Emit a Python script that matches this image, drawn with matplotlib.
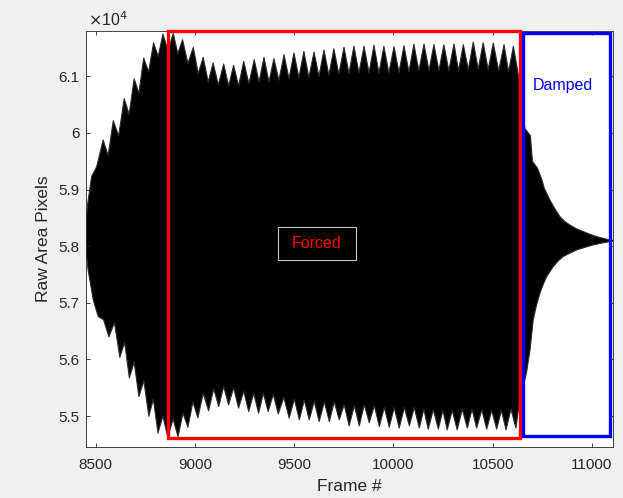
import numpy as np
import matplotlib
matplotlib.use("Agg")
import matplotlib.pyplot as plt
from matplotlib.patches import Rectangle
from matplotlib.ticker import FuncFormatter

# ---------------- data ----------------
# upper envelope: beat peaks
upper_peak_frames = [8538, 8589, 8644, 8694, 8742, 8792, 8839, 8891, 8938, 8992, 9042, 9092, 9145, 9195,
                     9246, 9299, 9348, 9398, 9449, 9499, 9549, 9600, 9650, 9700, 9751, 9801, 9852, 9902,
                     9952, 10003, 10053, 10103, 10154, 10204, 10254, 10305, 10352, 10402, 10452, 10503,
                     10557, 10604]
upper_peak_vals = [59876, 60216, 60605, 60958, 61323, 61593, 61747, 61759, 61646, 61512, 61335, 61235,
                   61217, 61194, 61265, 61293, 61335, 61311, 61381, 61411, 61441, 61429, 61464, 61487,
                   61512, 61535, 61530, 61547, 61530, 61523, 61540, 61565, 61570, 61561, 61558, 61570,
                   61558, 61605, 61593, 61588, 61558, 61530]
# upper envelope: between beats
upper_dip_frames = [8563, 8616, 8669, 8718, 8767, 8815, 8865, 8914, 8965, 9017, 9067, 9118, 9170, 9220,
                    9272, 9323, 9373, 9423, 9474, 9524, 9574, 9625, 9675, 9725, 9776, 9826, 9877, 9927,
                    9977, 10028, 10078, 10128, 10179, 10229, 10279, 10328, 10377, 10427, 10477, 10530,
                    10580]
upper_dip_vals = [59600, 59950, 60330, 60700, 61080, 61350, 61450, 61400, 61230, 61050, 60900, 60850,
                  60830, 60830, 60870, 60900, 60900, 60930, 60960, 60980, 60980, 61000, 61020, 61040,
                  61050, 61060, 61060, 61060, 61060, 61070, 61080, 61100, 61100, 61100, 61100, 61100,
                  61120, 61130, 61120, 61100, 61080]
# rise at the start and free decay at the end (upper edge)
upper_start_frames = [8453, 8458, 8480, 8505]
upper_start_vals = [58460, 58700, 59230, 59400]
upper_end_frames = [10628, 10645, 10662, 10690, 10700, 10725, 10745, 10760, 10788, 10815, 10839, 10865,
                    10889, 10920, 10956, 10990, 11024, 11060, 11091, 11106]
upper_end_vals = [61050, 60600, 60080, 59950, 59500, 59380, 59200, 59020, 58815, 58650, 58520, 58430,
                  58373, 58310, 58257, 58210, 58168, 58135, 58110, 58100]

# lower envelope: beat troughs
lower_trough_frames = [8567, 8622, 8670, 8718, 8768, 8814, 8864, 8915, 8965, 9015, 9069, 9120, 9170, 9220,
                       9271, 9321, 9369, 9420, 9475, 9526, 9576, 9626, 9677, 9727, 9777, 9828, 9878, 9929,
                       9979, 10029, 10080, 10130, 10175, 10226, 10271, 10321, 10372, 10419, 10470, 10520,
                       10567, 10617]
lower_trough_vals = [56398, 56036, 55674, 55344, 54995, 54698, 54615, 54633, 54801, 54968, 55092, 55168,
                     55198, 55140, 55079, 55051, 55079, 55039, 54963, 54933, 54933, 54903, 54903, 54933,
                     54827, 54827, 54885, 54815, 54804, 54787, 54827, 54787, 54769, 54769, 54757, 54757,
                     54787, 54787, 54769, 54769, 54757, 54787]
lower_dip_frames = [8595, 8646, 8694, 8743, 8791, 8839, 8890, 8940, 8990, 9042, 9095, 9145, 9195, 9246,
                    9296, 9345, 9395, 9448, 9501, 9551, 9601, 9652, 9702, 9752, 9803, 9853, 9904, 9954,
                    10004, 10055, 10105, 10153, 10201, 10249, 10296, 10347, 10396, 10445, 10495, 10544,
                    10592]
lower_dip_vals = [56650, 56300, 55950, 55620, 55300, 55000, 54950, 55050, 55250, 55400, 55480, 55520,
                  55500, 55440, 55400, 55400, 55380, 55330, 55300, 55280, 55260, 55250, 55250, 55200,
                  55180, 55200, 55180, 55150, 55150, 55150, 55150, 55120, 55110, 55100, 55100, 55120,
                  55120, 55110, 55100, 55100, 55120]
lower_start_frames = [8453, 8462, 8488, 8513, 8540]
lower_start_vals = [57900, 57581, 57052, 56757, 56700]
lower_end_frames = [10640, 10662, 10671, 10688, 10704, 10720, 10738, 10755, 10772, 10805, 10830, 10855,
                    10890, 10923, 10965, 11007, 11050, 11091, 11106]
lower_end_vals = [55400, 55639, 55786, 56169, 56698, 56950, 57170, 57330, 57463, 57639, 57740, 57816,
                  57880, 57934, 57980, 58022, 58055, 58080, 58090]

# annotation regions (frame, area)
forced_region = (8867, 10635, 54603, 61800)
damped_region = (10654, 11092, 54645, 61770)
forced_label = "Forced"
damped_label = "Damped"
forced_label_pos = (9615, 58049)
forced_box = (9418, 9811, 57757, 58340)
damped_label_pos = (10855, 60841)

x_ticks = [8500, 9000, 9500, 10000, 10500, 11000]
y_ticks = [55000, 56000, 57000, 58000, 59000, 60000, 61000]
x_limits = (8453, 11106)
y_limits = (54458, 61800)

# ---------------- drawing ----------------
plt.rcParams['font.family'] = ['Liberation Sans', 'DejaVu Sans']


def ordered(*pairs):
    f = np.concatenate([np.asarray(p[0], float) for p in pairs])
    v = np.concatenate([np.asarray(p[1], float) for p in pairs])
    idx = np.argsort(f, kind='stable')
    return f[idx], v[idx]


uf, uv = ordered((upper_start_frames, upper_start_vals), (upper_peak_frames, upper_peak_vals),
                 (upper_dip_frames, upper_dip_vals), (upper_end_frames, upper_end_vals))
lf, lv = ordered((lower_start_frames, lower_start_vals), (lower_trough_frames, lower_trough_vals),
                 (lower_dip_frames, lower_dip_vals), (lower_end_frames, lower_end_vals))

fig = plt.figure(figsize=(6.23, 4.98), dpi=100, facecolor='#f0f0f0')
ax = fig.add_axes([0.1385, 0.103, 0.8455, 0.8347])
ax.set_facecolor('white')

poly_x = np.concatenate([uf, lf[::-1]])
poly_y = np.concatenate([uv, lv[::-1]])
ax.fill(poly_x, poly_y, color='black', lw=0)
ax.plot(uf, uv, color='#2e2e2e', lw=0.8)
ax.plot(lf, lv, color='#2e2e2e', lw=0.8)

x0, x1, y0, y1 = forced_region
ax.add_patch(Rectangle((x0, y0), x1 - x0, y1 - y0, fill=False, edgecolor='#ff0000', lw=2.4,
                       clip_on=False, zorder=5))
x0, x1, y0, y1 = damped_region
ax.add_patch(Rectangle((x0, y0), x1 - x0, y1 - y0, fill=False, edgecolor='#0000ff', lw=2.4,
                       clip_on=False, zorder=5))

bx0, bx1, by0, by1 = forced_box
ax.add_patch(Rectangle((bx0, by0), bx1 - bx0, by1 - by0, fill=False, edgecolor='#c8c8c8', lw=0.8,
                       zorder=6))
ax.text(*forced_label_pos, forced_label, color='#ff0000', fontsize=11.5, ha='center', va='center',
        zorder=7)
ax.text(*damped_label_pos, damped_label, color='#0000ff', fontsize=11.5, ha='center', va='center',
        zorder=7)

ax.set_xlim(*x_limits)
ax.set_ylim(*y_limits)
ax.set_xticks(x_ticks)
ax.set_yticks(y_ticks)
ax.yaxis.set_major_formatter(FuncFormatter(lambda v, p: '%g' % (v / 1e4)))
ax.tick_params(direction='in', top=True, right=True, length=3, width=0.6, colors='#262626',
               labelsize=11)
ax.tick_params(axis='x', pad=8)
ax.tick_params(axis='y', pad=5)
for s in ax.spines.values():
    s.set_color('#262626')
    s.set_linewidth(0.6)

ax.text(0.003, 1.006, r'$\times$10$^{4}$', transform=ax.transAxes, fontsize=11.5, color='#262626',
        ha='left', va='bottom')
ax.set_xlabel('Frame #', fontsize=12.5, color='#262626', labelpad=5)
ax.set_ylabel('Raw Area Pixels', fontsize=12.5, color='#262626', labelpad=5)

fig.savefig('out.png', dpi=100, facecolor=fig.get_facecolor())
